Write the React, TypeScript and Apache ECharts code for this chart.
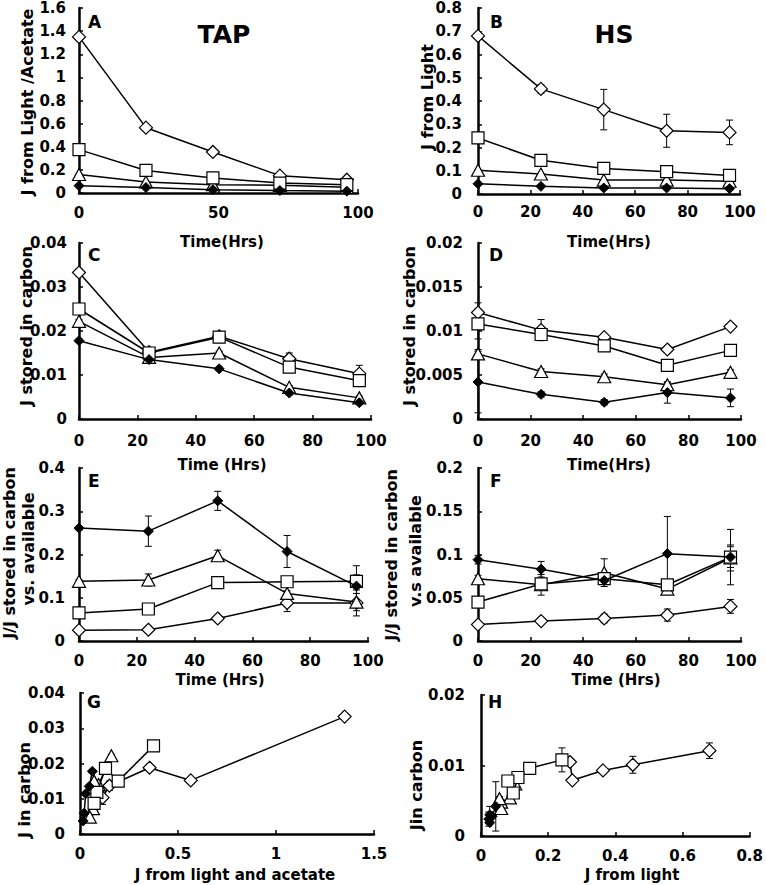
import React, { useEffect, useRef } from "react";
import * as echarts from "echarts";

// ---------- data ----------
const time = [0, 24, 48, 72, 96];

// Panel A – TAP, J from Light/Acetate
const aOpenDiamond = [1.35, 0.565, 0.355, 0.15, 0.115];
const aOpenSquare = [0.375, 0.195, 0.13, 0.086, 0.072];
const aOpenTriangle = [0.16, 0.095, 0.072, 0.066, 0.05];
const aFilledDiamond = [0.063, 0.047, 0.029, 0.021, 0.016];
const aErrDiamond = [0.004, 0.004, 0.004, 0.01, 0.008];
const aErrOther = [0.002, 0.002, 0.002, 0.002, 0.002];

// Panel B – HS, J from Light
const bOpenDiamond = [0.68, 0.452, 0.363, 0.272, 0.265];
const bOpenSquare = [0.241, 0.145, 0.11, 0.096, 0.08];
const bOpenTriangle = [0.102, 0.086, 0.06, 0.06, 0.055];
const bFilledDiamond = [0.044, 0.033, 0.026, 0.026, 0.023];
const bErrDiamond = [0.005, 0.018, 0.087, 0.071, 0.053];
const bErrOther = [0.002, 0.002, 0.002, 0.002, 0.002];

// Panel C – TAP, J stored in carbon
const cOpenDiamond = [0.0333, 0.0152, 0.0188, 0.0137, 0.0103];
const cOpenSquare = [0.025, 0.015, 0.0186, 0.0118, 0.0087];
const cOpenTriangle = [0.0222, 0.014, 0.015, 0.0072, 0.0048];
const cFilledDiamond = [0.0178, 0.0135, 0.0114, 0.0059, 0.0037];
const cErrDiamond = [0.0008, 0.0004, 0.0008, 0.0013, 0.0019];
const cErrSquare = [0.0005, 0.0004, 0.0008, 0.0006, 0.0006];
const cErrTriangle = [0.0004, 0.0004, 0.0004, 0.0004, 0.0004];
const cErrFilled = [0.0004, 0.0004, 0.0004, 0.0004, 0.0004];

// Panel D – HS, J stored in carbon
const dOpenDiamond = [0.0121, 0.0101, 0.0093, 0.0079, 0.0105];
const dOpenSquare = [0.0108, 0.0096, 0.0083, 0.0061, 0.0078];
const dOpenTriangle = [0.0074, 0.0054, 0.0048, 0.0039, 0.0053];
const dFilledDiamond = [0.0042, 0.0028, 0.0019, 0.003, 0.0024];
const dErrDiamond = [0.0011, 0.0012, 0.0003, 0.0003, 0.0002];
const dErrSquare = [0.0017, 0.0003, 0.0003, 0.0003, 0.0005];
const dErrTriangle = [0.0005, 0.0003, 0.0003, 0.0003, 0.0003];
const dErrFilled = [0.0035, 0.0003, 0.0003, 0.0012, 0.001];

// Panel E – TAP, J/J stored in carbon vs. available
const eOpenDiamond = [0.025, 0.026, 0.052, 0.088, 0.088];
const eOpenSquare = [0.065, 0.074, 0.135, 0.137, 0.138];
const eOpenTriangle = [0.138, 0.141, 0.197, 0.11, 0.09];
const eFilledDiamond = [0.261, 0.254, 0.324, 0.207, 0.127];
const eErrDiamond = [0.002, 0.002, 0.004, 0.02, 0.03];
const eErrSquare = [0.004, 0.006, 0.004, 0.004, 0.015];
const eErrTriangle = [0.004, 0.014, 0.013, 0.006, 0.02];
const eErrFilled = [0.004, 0.035, 0.022, 0.037, 0.047];

// Panel F – HS, J/J stored in carbon v.s available
const fOpenDiamond = [0.019, 0.023, 0.026, 0.03, 0.04];
const fOpenSquare = [0.045, 0.066, 0.072, 0.065, 0.097];
const fOpenTriangle = [0.072, 0.065, 0.079, 0.06, 0.096];
const fFilledDiamond = [0.094, 0.083, 0.07, 0.101, 0.097];
const fErrDiamond = [0.002, 0.002, 0.005, 0.007, 0.008];
const fErrSquare = [0.003, 0.004, 0.003, 0.005, 0.012];
const fErrTriangle = [0.004, 0.012, 0.016, 0.004, 0.015];
const fErrFilled = [0.005, 0.009, 0.004, 0.043, 0.032];

// axis tick settings [min, max, interval]
const xTimeA = [0, 100, 50];
const xTime = [0, 100, 20];
const xLightAcetate = [0, 1.5, 0.5];
const xLight = [0, 0.8, 0.2];
const yA = [0, 1.6, 0.2];
const yB = [0, 0.8, 0.1];
const yC = [0, 0.04, 0.01];
const yD = [0, 0.02, 0.005];
const yE = [0, 0.4, 0.1];
const yF = [0, 0.2, 0.05];
const yG = [0, 0.04, 0.01];
const yH = [0, 0.02, 0.01];

const panelLetters = ["A", "B", "C", "D", "E", "F", "G", "H"];

// ---------- styles ----------
const FONT = '"DejaVu Sans", "Liberation Sans", Arial, sans-serif';

type Kind = "openDiamond" | "openSquare" | "openTriangle" | "filledDiamond";
const markerStyle: Record<Kind, any> = {
  openDiamond: {
    symbol: "diamond",
    symbolSize: 13,
    itemStyle: { color: "#ffffff", borderColor: "#000", borderWidth: 1.2 },
  },
  openSquare: {
    symbol: "rect",
    symbolSize: 12,
    itemStyle: { color: "#ffffff", borderColor: "#000", borderWidth: 1.2 },
  },
  openTriangle: {
    symbol: "triangle",
    symbolSize: [13, 12],
    itemStyle: { color: "#ffffff", borderColor: "#000", borderWidth: 1.2 },
  },
  filledDiamond: {
    symbol: "diamond",
    symbolSize: 10,
    itemStyle: { color: "#000", borderColor: "#000", borderWidth: 1 },
  },
};

type SeriesDef = { kind: Kind; xs: number[]; ys: number[]; errs: number[] };
type PanelDef = {
  grid: { left: number; top: number; width: number; height: number };
  x: number[];
  y: number[];
  xMargin: number;
  yMargin: number;
  series: SeriesDef[];
};

const timeSeries = (
  d: number[],
  s: number[],
  t: number[],
  f: number[],
  ed: number[],
  es: number[],
  et: number[],
  ef: number[]
): SeriesDef[] => [
  { kind: "openDiamond", xs: time, ys: d, errs: ed },
  { kind: "openTriangle", xs: time, ys: t, errs: et },
  { kind: "openSquare", xs: time, ys: s, errs: es },
  { kind: "filledDiamond", xs: time, ys: f, errs: ef },
];

const panels: PanelDef[] = [
  {
    grid: { left: 79, top: 8, width: 279, height: 185 },
    x: xTimeA,
    y: yA,
    xMargin: 12,
    yMargin: 13,
    series: timeSeries(aOpenDiamond, aOpenSquare, aOpenTriangle, aFilledDiamond, aErrDiamond, aErrOther, aErrOther, aErrOther),
  },
  {
    grid: { left: 478, top: 8, width: 262, height: 186 },
    x: xTime,
    y: yB,
    xMargin: 10,
    yMargin: 16,
    series: timeSeries(bOpenDiamond, bOpenSquare, bOpenTriangle, bFilledDiamond, bErrDiamond, bErrOther, bErrOther, bErrOther),
  },
  {
    grid: { left: 79, top: 243, width: 292, height: 176 },
    x: xTime,
    y: yC,
    xMargin: 14,
    yMargin: 12,
    series: timeSeries(cOpenDiamond, cOpenSquare, cOpenTriangle, cFilledDiamond, cErrDiamond, cErrSquare, cErrTriangle, cErrFilled),
  },
  {
    grid: { left: 478, top: 243, width: 263, height: 176 },
    x: xTime,
    y: yD,
    xMargin: 14,
    yMargin: 15,
    series: timeSeries(dOpenDiamond, dOpenSquare, dOpenTriangle, dFilledDiamond, dErrDiamond, dErrSquare, dErrTriangle, dErrFilled),
  },
  {
    grid: { left: 79, top: 468, width: 289, height: 173 },
    x: xTime,
    y: yE,
    xMargin: 12,
    yMargin: 14,
    series: timeSeries(eOpenDiamond, eOpenSquare, eOpenTriangle, eFilledDiamond, eErrDiamond, eErrSquare, eErrTriangle, eErrFilled),
  },
  {
    grid: { left: 478, top: 468, width: 263, height: 173 },
    x: xTime,
    y: yF,
    xMargin: 12,
    yMargin: 15,
    series: timeSeries(fOpenDiamond, fOpenSquare, fOpenTriangle, fFilledDiamond, fErrDiamond, fErrSquare, fErrTriangle, fErrFilled),
  },
  {
    grid: { left: 80, top: 693, width: 294, height: 141 },
    x: xLightAcetate,
    y: yG,
    xMargin: 12,
    yMargin: 15,
    series: [
      { kind: "openDiamond", xs: aOpenDiamond, ys: cOpenDiamond, errs: cErrDiamond },
      { kind: "openTriangle", xs: aOpenTriangle, ys: cOpenTriangle, errs: cErrTriangle },
      { kind: "openSquare", xs: aOpenSquare, ys: cOpenSquare, errs: cErrSquare },
      { kind: "filledDiamond", xs: aFilledDiamond, ys: cFilledDiamond, errs: cErrFilled },
    ],
  },
  {
    grid: { left: 481, top: 695, width: 275, height: 141 },
    x: xLight,
    y: yH,
    xMargin: 12,
    yMargin: 16,
    series: [
      { kind: "openDiamond", xs: bOpenDiamond, ys: dOpenDiamond, errs: dErrDiamond },
      { kind: "openTriangle", xs: bOpenTriangle, ys: dOpenTriangle, errs: dErrTriangle },
      { kind: "openSquare", xs: bOpenSquare, ys: dOpenSquare, errs: dErrSquare },
      { kind: "filledDiamond", xs: bFilledDiamond, ys: dFilledDiamond, errs: dErrFilled },
    ],
  },
];

// text positions (centre x, centre y)
const letterPos = [
  [88, 22],
  [490, 22],
  [88, 255],
  [489, 255],
  [88, 481],
  [490, 481],
  [87, 702],
  [488, 702],
];

const yNames: { text: string; x: number; y: number }[] = [
  { text: "J from Light /Acetate", x: 27, y: 102 },
  { text: "J from Light", x: 427, y: 97 },
  { text: "J stored in carbon", x: 26, y: 326 },
  { text: "J stored in carbon", x: 409, y: 326 },
  { text: "J/J stored in carbon", x: 9, y: 553 },
  { text: "vs. available", x: 28, y: 549 },
  { text: "J/J stored in carbon", x: 391, y: 555 },
  { text: "v.s available", x: 415, y: 551 },
  { text: "J in carbon", x: 24, y: 790 },
  { text: "Jin carbon", x: 416, y: 785 },
];

const xNames: { text: string; x: number; y: number }[] = [
  { text: "Time(Hrs)", x: 222, y: 242 },
  { text: "Time(Hrs)", x: 609, y: 242 },
  { text: "Time (Hrs)", x: 222, y: 465 },
  { text: "Time(Hrs)", x: 609, y: 465 },
  { text: "Time (Hrs)", x: 220, y: 680 },
  { text: "Time (Hrs)", x: 616, y: 680 },
  { text: "J from light and acetate", x: 235, y: 875 },
  { text: "J from light", x: 632, y: 875 },
];

const titles = [
  { text: "TAP", x: 224, y: 34 },
  { text: "HS", x: 614, y: 34 },
];

function buildOption() {
  const grids: any[] = [];
  const xAxes: any[] = [];
  const yAxes: any[] = [];
  const series: any[] = [];

  const axisCommon = {
    axisLine: { show: true, onZero: false, lineStyle: { color: "#000", width: 2.5 } },
    axisTick: { show: true, inside: true, length: 4, lineStyle: { color: "#000", width: 1.5 } },
    splitLine: { show: false },
  };
  const labelCommon = {
    color: "#000",
    fontFamily: FONT,
    fontWeight: "bold",
    fontSize: 15,
  };

  panels.forEach((p, i) => {
    grids.push({ ...p.grid, containLabel: false });
    xAxes.push({
      type: "value",
      gridIndex: i,
      min: p.x[0],
      max: p.x[1],
      interval: p.x[2],
      ...axisCommon,
      axisLabel: { ...labelCommon, margin: p.xMargin, showMaxLabel: true, showMinLabel: true },
    });
    yAxes.push({
      type: "value",
      gridIndex: i,
      min: p.y[0],
      max: p.y[1],
      interval: p.y[2],
      ...axisCommon,
      axisLabel: { ...labelCommon, margin: p.yMargin, showMaxLabel: true, showMinLabel: true },
    });

    p.series.forEach((s, k) => {
      const pts = s.xs.map((x, j) => [x, s.ys[j], s.errs[j]]);
      series.push({
        type: "custom",
        xAxisIndex: i,
        yAxisIndex: i,
        z: 1,
        silent: true,
        data: pts,
        encode: { x: 0, y: 1 },
        renderItem: (_params: any, api: any) => {
          const x = api.value(0);
          const y = api.value(1);
          const e = api.value(2);
          const top = api.coord([x, y + e]);
          const bot = api.coord([x, y - e]);
          const hw = 3.5;
          const st = { stroke: "#000", lineWidth: 1 };
          return {
            type: "group",
            children: [
              { type: "line", shape: { x1: top[0], y1: top[1], x2: bot[0], y2: bot[1] }, style: st },
              { type: "line", shape: { x1: top[0] - hw, y1: top[1], x2: top[0] + hw, y2: top[1] }, style: st },
              { type: "line", shape: { x1: bot[0] - hw, y1: bot[1], x2: bot[0] + hw, y2: bot[1] }, style: st },
            ],
          };
        },
      });
      const m = markerStyle[s.kind];
      series.push({
        type: "line",
        name: `${panelLetters[i]}-${s.kind}`,
        xAxisIndex: i,
        yAxisIndex: i,
        z: 3 + k,
        data: pts.map((q) => [q[0], q[1]]),
        showSymbol: true,
        showAllSymbol: true,
        symbol: m.symbol,
        symbolSize: m.symbolSize,
        itemStyle: m.itemStyle,
        lineStyle: { color: "#000", width: 1.5 },
        emphasis: { disabled: true },
      });
    });
  });

  const graphics: any[] = [];
  panelLetters.forEach((l, i) => {
    graphics.push({
      type: "text",
      x: letterPos[i][0],
      y: letterPos[i][1],
      style: {
        text: l,
        font: `bold 17px ${FONT}`,
        fill: "#000",
        align: "left",
        verticalAlign: "middle",
      },
    });
  });
  yNames.forEach((n) => {
    graphics.push({
      type: "text",
      x: n.x,
      y: n.y,
      rotation: Math.PI / 2,
      style: {
        text: n.text,
        font: `bold 16px ${FONT}`,
        fill: "#000",
        align: "center",
        verticalAlign: "middle",
      },
    });
  });
  xNames.forEach((n) => {
    graphics.push({
      type: "text",
      x: n.x,
      y: n.y,
      style: {
        text: n.text,
        font: `bold 15px ${FONT}`,
        fill: "#000",
        align: "center",
        verticalAlign: "middle",
      },
    });
  });
  titles.forEach((t) => {
    graphics.push({
      type: "text",
      x: t.x,
      y: t.y,
      style: {
        text: t.text,
        font: `bold 25px ${FONT}`,
        fill: "#000",
        align: "center",
        verticalAlign: "middle",
      },
    });
  });

  return {
    animation: false,
    backgroundColor: "#ffffff",
    grid: grids,
    xAxis: xAxes,
    yAxis: yAxes,
    series,
    graphic: graphics,
  };
}

export default function App() {
  const ref = useRef<HTMLDivElement>(null);
  useEffect(() => {
    if (!ref.current) return;
    const chart = echarts.init(ref.current, undefined, { renderer: "svg" });
    chart.setOption(buildOption() as any);
    return () => chart.dispose();
  }, []);
  return (
    <div
      ref={ref}
      style={{ position: "absolute", left: 0, top: 0, width: 766, height: 885, background: "#fff" }}
    />
  );
}
